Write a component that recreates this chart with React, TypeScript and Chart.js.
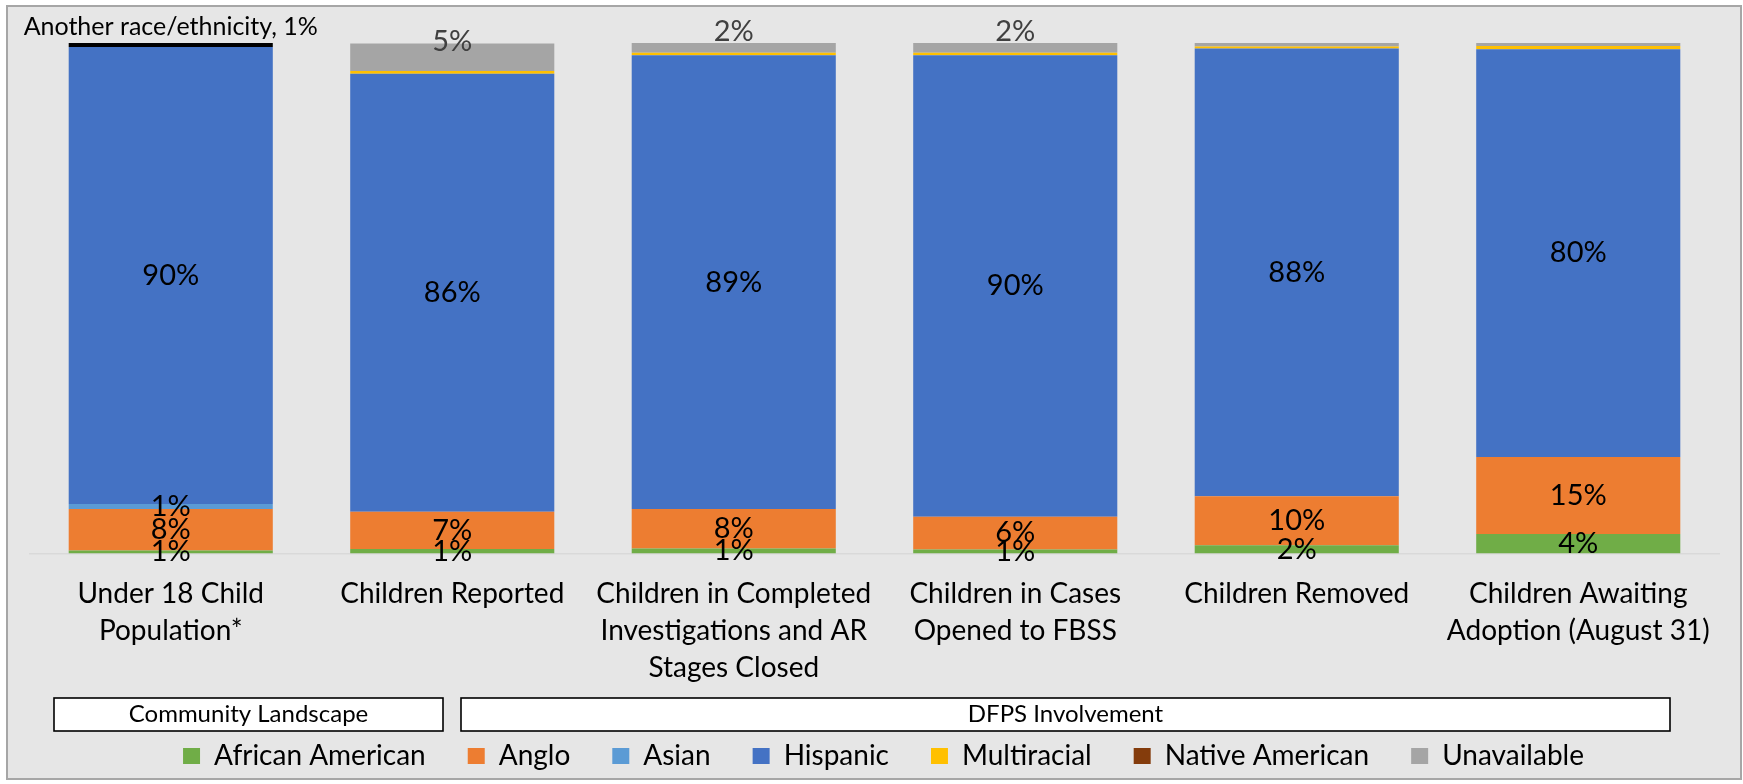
import React, { useEffect, useRef } from "react";
import { Chart, registerables } from "chart.js";

Chart.register(...registerables);

const FONT = "Lato";

const categories = [
  ["Under 18 Child", "Population*"],
  ["Children Reported"],
  ["Children in Completed", "Investigations and AR", "Stages Closed"],
  ["Children in Cases", "Opened to FBSS"],
  ["Children Removed"],
  ["Children Awaiting", "Adoption (August 31)"],
];

const africanAmerican = [0.6, 0.9, 1.0, 0.8, 1.6, 3.8];
const anglo = [8.1, 7.3, 7.7, 6.4, 9.6, 15.1];
const asian = [1.0, 0, 0, 0, 0, 0];
const hispanic = [89.5, 85.8, 88.9, 90.4, 87.7, 79.9];
const multiracial = [0, 0.5, 0.5, 0.5, 0.4, 0.6];
const nativeAmerican = [0, 0, 0, 0, 0, 0];
const unavailable = [0, 5.4, 1.9, 1.9, 0.7, 0.6];
const anotherRace = [0.8, 0, 0, 0, 0, 0];

const groupLabels = ["Community Landscape", "DFPS Involvement"];

const segLabelPlugin = {
  id: "segLabels",
  afterDatasetsDraw(chart: any) {
    const ctx = chart.ctx;
    ctx.save();
    ctx.textAlign = "center";
    ctx.textBaseline = "middle";
    chart.data.datasets.forEach((ds: any, i: number) => {
      const meta = chart.getDatasetMeta(i);
      if (meta.hidden) return;
      meta.data.forEach((el: any, j: number) => {
        const v = ds.data[j];
        if (!v) return;
        const pct = Math.round(v) + "%";
        const mid = (el.y + el.base) / 2;
        if (ds.labelRule === "center") {
          ctx.font = `29px ${FONT}`;
          ctx.fillStyle = "#000000";
          ctx.fillText(pct, el.x, mid);
        } else if (ds.labelRule === "above" && v >= 1) {
          ctx.font = `29px ${FONT}`;
          ctx.fillStyle = "#404040";
          ctx.fillText(pct, el.x, mid - 16);
        } else if (ds.labelRule === "top") {
          ctx.font = `25px ${FONT}`;
          ctx.fillStyle = "#000000";
          ctx.fillText(`${ds.label}, ${pct}`, el.x, el.y - 16);
        }
      });
    });
    ctx.restore();
  },
};

const groupBoxPlugin = {
  id: "groupBoxes",
  afterDraw(chart: any) {
    const ctx = chart.ctx;
    const boxes = [
      { x: 54, w: 389 },
      { x: 461, w: 1209 },
    ];
    ctx.save();
    boxes.forEach((b, i) => {
      ctx.fillStyle = "#FFFFFF";
      ctx.fillRect(b.x, 698, b.w, 33);
      ctx.strokeStyle = "#000000";
      ctx.lineWidth = 1.6;
      ctx.strokeRect(b.x, 698, b.w, 33);
      ctx.fillStyle = "#000000";
      ctx.font = `24px ${FONT}`;
      ctx.textAlign = "center";
      ctx.textBaseline = "middle";
      ctx.fillText(groupLabels[i], b.x + b.w / 2, 714.5);
    });
    ctx.restore();
  },
};

const legendShiftPlugin = {
  id: "legendShift",
  afterLayout(chart: any) {
    if (chart.legend) {
      chart.legend.left += 9;
      chart.legend.right += 9;
    }
  },
};

export default function App() {
  const ref = useRef<HTMLCanvasElement>(null);
  useEffect(() => {
    const mk = (label: string, data: number[], color: string, labelRule: string) => ({
      label,
      data,
      backgroundColor: color,
      borderWidth: 0,
      labelRule,
      categoryPercentage: 1,
      barPercentage: 0.725,
    });
    const chart = new Chart(ref.current as HTMLCanvasElement, {
      type: "bar",
      data: {
        labels: categories as any,
        datasets: [
          mk("African American", africanAmerican, "#70AD47", "center"),
          mk("Anglo", anglo, "#ED7D31", "center"),
          mk("Asian", asian, "#5B9BD5", "center"),
          mk("Hispanic", hispanic, "#4472C4", "center"),
          mk("Multiracial", multiracial, "#FFC000", "none"),
          mk("Native American", nativeAmerican, "#843C0C", "none"),
          mk("Unavailable", unavailable, "#A5A5A5", "above"),
          mk("Another race/ethnicity", anotherRace, "#000000", "top"),
        ] as any,
      },
      options: {
        responsive: false,
        animation: false,
        layout: { padding: { left: 30, right: 24, top: 43, bottom: 4 } },
        scales: {
          x: {
            stacked: true,
            grid: { display: false, drawTicks: false },
            border: { display: true, color: "#D9D9D9", width: 1.5 },
            ticks: {
              color: "#000000",
              font: { family: FONT, size: 28, lineHeight: 1.32 },
              padding: 22,
              maxRotation: 0,
              autoSkip: false,
            },
            afterFit: (s: any) => {
              s.height = 146.5;
            },
          },
          y: { stacked: true, display: false, min: 0, max: 100 },
        },
        plugins: {
          tooltip: { enabled: false },
          legend: {
            position: "bottom",
            labels: {
              color: "#000000",
              font: { family: FONT, size: 28 },
              boxWidth: 17,
              boxHeight: 16,
              padding: 42,
              filter: (item: any) => item.text !== "Another race/ethnicity",
            },
          },
        },
      } as any,
      plugins: [segLabelPlugin, groupBoxPlugin, legendShiftPlugin],
    });
    return () => chart.destroy();
  }, []);
  return (
    <div style={{ position: "absolute", left: 0, top: 0, width: 1743, height: 784, background: "#FFFFFF" }}>
      <div
        style={{
          position: "absolute",
          left: 6,
          top: 5,
          width: 1736,
          height: 775,
          boxSizing: "border-box",
          border: "2px solid #A6A6A6",
          background: "#E6E6E6",
        }}
      />
      <canvas
        ref={ref}
        width={1743}
        height={784}
        style={{ position: "absolute", left: 0, top: 0, width: 1743, height: 784 }}
      />
    </div>
  );
}
